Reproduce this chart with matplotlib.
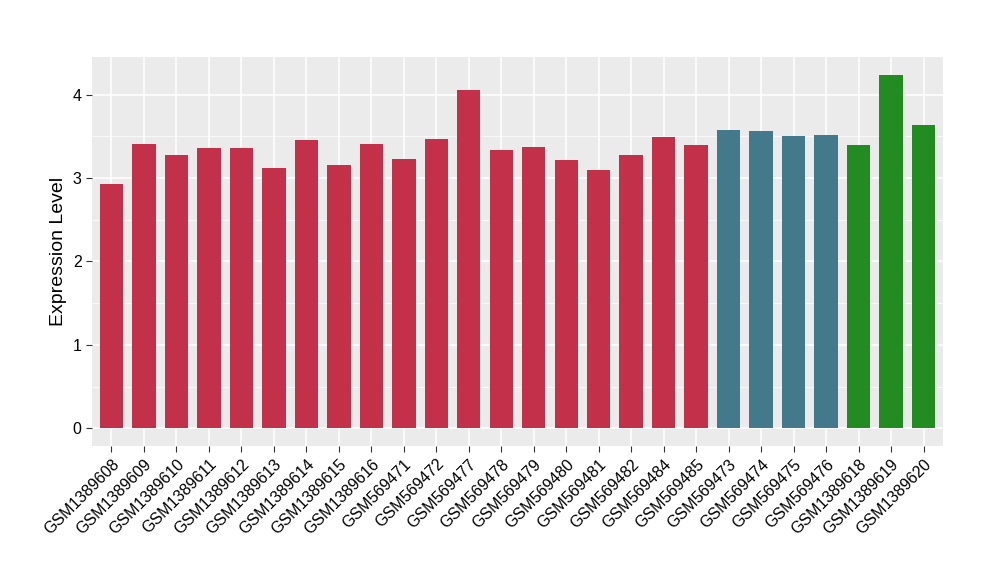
import matplotlib
matplotlib.use("Agg")
import matplotlib.pyplot as plt
from matplotlib.ticker import MultipleLocator

plt.rcParams["font.family"] = ["Liberation Sans", "DejaVu Sans"]

# ── 資料 ────────────────────────────────────────────────
samples = [
    "GSM1389608", "GSM1389609", "GSM1389610", "GSM1389611", "GSM1389612",
    "GSM1389613", "GSM1389614", "GSM1389615", "GSM1389616", "GSM569471",
    "GSM569472", "GSM569477", "GSM569478", "GSM569479", "GSM569480",
    "GSM569481", "GSM569482", "GSM569484", "GSM569485", "GSM569473",
    "GSM569474", "GSM569475", "GSM569476", "GSM1389618", "GSM1389619",
    "GSM1389620",
]
expression = [
    2.93, 3.41, 3.28, 3.36, 3.36, 3.12, 3.45, 3.16, 3.41, 3.23,
    3.47, 4.06, 3.34, 3.37, 3.22, 3.10, 3.28, 3.49, 3.40, 3.58,
    3.56, 3.50, 3.51, 3.40, 4.24, 3.63,
]
groups = ["A"] * 19 + ["B"] * 4 + ["C"] * 3
group_colors = {"A": "#C3304A", "B": "#43798A", "C": "#228B22"}

fig = plt.figure(figsize=(10, 5.8), dpi=100)
ax = fig.add_axes([0.092, 0.231, 0.851, 0.671])
ax.set_facecolor("#EBEBEB")

x = list(range(len(samples)))
ax.bar(x, expression, width=0.72, color=[group_colors[g] for g in groups], zorder=3)

ymax = max(expression)
ax.set_xlim(-0.6, len(samples) - 0.4)
ax.set_ylim(-0.05 * ymax, ymax * 1.05)
ax.yaxis.set_major_locator(MultipleLocator(1))
ax.yaxis.set_minor_locator(MultipleLocator(0.5))
ax.grid(which="major", color="white", linewidth=1.1, zorder=1)
ax.grid(which="minor", axis="y", color="white", linewidth=0.5, zorder=1)

ax.set_xticks(x)
ax.set_xticklabels(samples, rotation=45, ha="right", rotation_mode="anchor", fontsize=11.5)
ax.tick_params(axis="both", which="major", length=4, color="#333333", labelcolor="black", labelsize=11.5)
ax.tick_params(axis="y", which="minor", length=0)
for s in ax.spines.values():
    s.set_visible(False)

ax.set_ylabel("Expression Level", fontsize=14, labelpad=4)

fig.savefig("out.png", dpi=100)
